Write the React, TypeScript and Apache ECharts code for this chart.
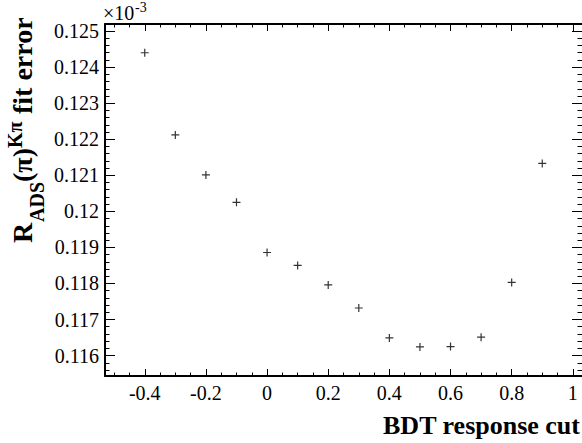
import React, { useEffect, useRef } from "react";
import * as echarts from "echarts";

// ---- data ----
const bdtCuts = [-0.4, -0.3, -0.2, -0.1, 0, 0.1, 0.2, 0.3, 0.4, 0.5, 0.6, 0.7, 0.8, 0.9];
const fitErrors = [
  0.12440, 0.12212, 0.12101, 0.12025, 0.11886, 0.11850, 0.11796,
  0.11732, 0.11649, 0.11624, 0.11625, 0.11651, 0.11803, 0.12133,
];
const xMajorTicks = [-0.4, -0.2, 0, 0.2, 0.4, 0.6, 0.8, 1];
const yMajorTicks = [0.116, 0.117, 0.118, 0.119, 0.12, 0.121, 0.122, 0.123, 0.124, 0.125];

const X_MIN = -0.53;
const X_MAX = 1.03;
const Y_MIN = 0.115434;
const Y_MAX = 0.125197;

function minorTicks(start: number, end: number, step: number, majors: number[], lo: number, hi: number, dec: number) {
  const out: number[] = [];
  const n = Math.round((end - start) / step);
  for (let i = 0; i <= n; i++) {
    const v = parseFloat((start + i * step).toFixed(dec));
    if (v < lo || v > hi) continue;
    if (majors.some((m) => Math.abs(m - v) < step / 10)) continue;
    out.push(v);
  }
  return out;
}

const xMinorTicks = minorTicks(-0.5, 1.0, 0.05, xMajorTicks, X_MIN, X_MAX, 3);
const yMinorTicks = minorTicks(0.1156, 0.1252, 0.0002, yMajorTicks, Y_MIN, Y_MAX, 5);

const FONT = "'Liberation Serif', 'Times New Roman', Times, serif";
const PLUS = "path://M0,3.4H8V4.6H0Z M3.4,0H4.6V8H3.4Z";

function xAxisDef(position: "bottom" | "top", ticks: number[], len: number, showLine: boolean, showLabels: boolean) {
  return {
    type: "value",
    position,
    min: X_MIN,
    max: X_MAX,
    axisLine: { show: showLine, onZero: false, lineStyle: { color: "#000", width: 2 } },
    axisTick: { show: true, inside: true, length: len, customValues: ticks, lineStyle: { color: "#000", width: 1 } },
    axisLabel: {
      show: showLabels,
      customValues: xMajorTicks,
      margin: 7,
      fontSize: 20,
      fontFamily: FONT,
      color: "#000",
      formatter: (v: number) => String(parseFloat(v.toFixed(2))),
    },
    splitLine: { show: false },
    minorTick: { show: false },
  };
}

function yAxisDef(position: "left" | "right", ticks: number[], len: number, showLine: boolean, showLabels: boolean) {
  return {
    type: "value",
    position,
    min: Y_MIN,
    max: Y_MAX,
    axisLine: { show: showLine, onZero: false, lineStyle: { color: "#000", width: 2 } },
    axisTick: { show: true, inside: true, length: len, customValues: ticks, lineStyle: { color: "#000", width: 1 } },
    axisLabel: {
      show: showLabels,
      customValues: yMajorTicks,
      margin: 6,
      fontSize: 20,
      fontFamily: FONT,
      color: "#000",
      formatter: (v: number) => String(parseFloat(v.toFixed(4))),
    },
    splitLine: { show: false },
    minorTick: { show: false },
  };
}

// place text so that its alphabetic baseline sits at the given coordinate
const mid = (baseline: number, size: number) => baseline - 0.3375 * size;

export default function App() {
  const ref = useRef<HTMLDivElement>(null);

  useEffect(() => {
    if (!ref.current) return;
    const chart = echarts.init(ref.current, undefined, { renderer: "svg" });
    const txt = (text: string, size: number, bold: boolean, align = "left") => ({
      text,
      fontSize: size,
      fontWeight: bold ? "bold" : "normal",
      fontFamily: FONT,
      fill: "#000",
      align,
      verticalAlign: "middle",
    });
    chart.setOption({
      animation: false,
      backgroundColor: "#fff",
      grid: { left: 105, right: 0, top: 24, bottom: 67, containLabel: false },
      xAxis: [
        xAxisDef("bottom", xMajorTicks, 7, true, true),
        xAxisDef("bottom", xMinorTicks, 3.5, false, false),
        xAxisDef("top", xMajorTicks, 7, true, false),
        xAxisDef("top", xMinorTicks, 3.5, false, false),
      ],
      yAxis: [
        yAxisDef("left", yMajorTicks, 10, true, true),
        yAxisDef("left", yMinorTicks, 4.5, false, false),
        yAxisDef("right", yMajorTicks, 10, false, false),
        yAxisDef("right", yMinorTicks, 4.5, false, false),
      ],
      series: [
        {
          type: "scatter",
          xAxisIndex: 0,
          yAxisIndex: 0,
          symbol: PLUS,
          symbolSize: 8,
          itemStyle: { color: "#000" },
          data: bdtCuts.map((x, i) => [x, fitErrors[i]]),
        },
      ],
      graphic: [
        { type: "text", x: 103, y: mid(20, 20), style: txt("×10", 20, false) },
        { type: "text", x: 135, y: mid(12.5, 14), style: txt("-3", 14, false) },
        { type: "text", x: 580, y: mid(434, 26), style: txt("BDT response cut", 26, true, "right") },
        {
          type: "group",
          x: 32,
          y: 243,
          rotation: Math.PI / 2,
          children: [
            { type: "text", x: 0, y: mid(0, 28), style: txt("R", 28, true) },
            { type: "text", x: 21, y: mid(12, 20), style: txt("ADS", 20, true) },
            { type: "text", x: 61, y: mid(0, 28), style: txt("(π)", 28, true) },
            { type: "text", x: 95, y: mid(-10, 20), style: txt("Kπ", 20, true) },
            { type: "text", x: 129, y: mid(0, 28), style: txt("fit error", 28, true) },
          ],
        },
      ],
    });
    return () => chart.dispose();
  }, []);

  return (
    <div
      ref={ref}
      style={{ position: "absolute", left: 0, top: 0, width: 582, height: 443 }}
    />
  );
}
